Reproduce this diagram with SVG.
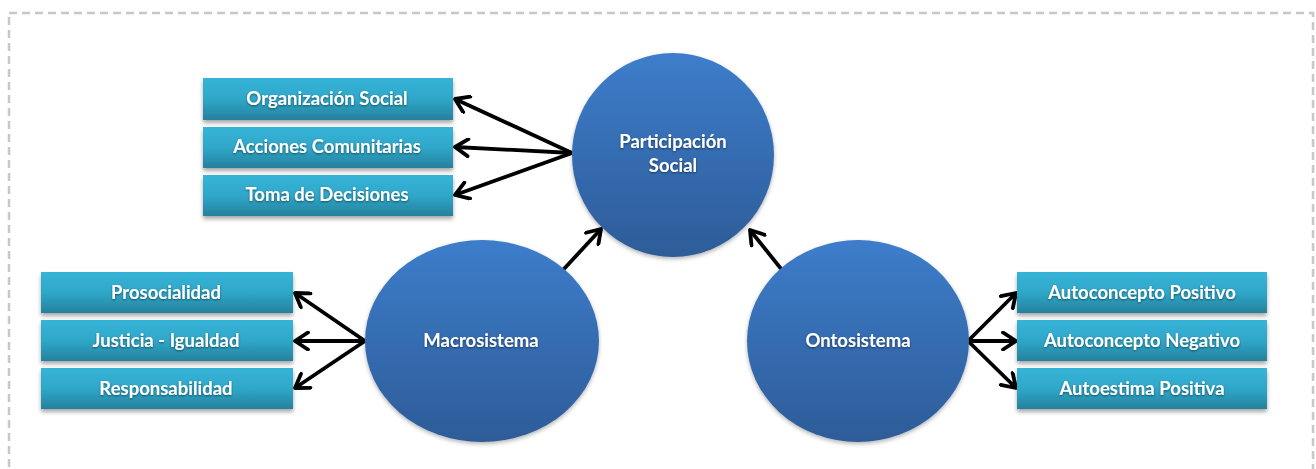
<svg xmlns="http://www.w3.org/2000/svg" width="1316" height="469" viewBox="0 0 1316 469">
<style>
.box{fill:url(#boxg);filter:url(#sh)}
.circ{fill:url(#circg);filter:url(#sh2)}
.lbl{font-family:"Lato","Liberation Sans",sans-serif;font-weight:bold;font-size:18.5px;fill:#ffffff;text-anchor:middle;filter:url(#tsh)}
.con{stroke:#000;stroke-width:3.8;fill:none;marker-end:url(#ah)}
</style>
<defs>
<linearGradient id="boxg" x1="0" y1="0" x2="0" y2="1">
<stop offset="0" stop-color="#36b4d8"/>
<stop offset="0.5" stop-color="#2fa7c9"/>
<stop offset="1" stop-color="#26819d"/>
</linearGradient>
<linearGradient id="circg" x1="0" y1="0" x2="0" y2="1">
<stop offset="0" stop-color="#3d7dcb"/>
<stop offset="1" stop-color="#2d5c98"/>
</linearGradient>
<filter id="sh" x="-10%" y="-20%" width="120%" height="160%">
<feGaussianBlur in="SourceAlpha" stdDeviation="2"/>
<feOffset dx="0" dy="3" result="b"/>
<feComponentTransfer><feFuncA type="linear" slope="0.35"/></feComponentTransfer>
<feMerge><feMergeNode/><feMergeNode in="SourceGraphic"/></feMerge>
</filter>
<filter id="sh2" x="-10%" y="-10%" width="120%" height="125%">
<feGaussianBlur in="SourceAlpha" stdDeviation="2"/>
<feOffset dx="0" dy="2" result="b"/>
<feComponentTransfer><feFuncA type="linear" slope="0.3"/></feComponentTransfer>
<feMerge><feMergeNode/><feMergeNode in="SourceGraphic"/></feMerge>
</filter>
<filter id="tsh" x="-10%" y="-30%" width="120%" height="160%">
<feGaussianBlur in="SourceAlpha" stdDeviation="0.8"/>
<feOffset dx="0" dy="1"/>
<feComponentTransfer><feFuncA type="linear" slope="0.5"/></feComponentTransfer>
<feMerge><feMergeNode/><feMergeNode in="SourceGraphic"/></feMerge>
</filter>
<marker id="ah" markerUnits="userSpaceOnUse" viewBox="0 0 20 20" refX="17" refY="10" markerWidth="20" markerHeight="20" orient="auto">
<path d="M4,1.5 L17,10 L4,18.5" stroke="#000" stroke-width="3.8" fill="none" stroke-linecap="round" stroke-linejoin="round"/>
</marker>
</defs>
<rect x="9" y="13" width="1304" height="470" fill="none" stroke="#c8c8c8" stroke-width="2.5" stroke-dasharray="8,5"/>

<g id="connectors">
<line class="con" x1="572" y1="153" x2="455" y2="99"/>
<line class="con" x1="572" y1="153" x2="455" y2="147"/>
<line class="con" x1="572" y1="153" x2="455" y2="195"/>
<line class="con" x1="365" y1="341" x2="295" y2="293"/>
<line class="con" x1="365" y1="341" x2="295" y2="341"/>
<line class="con" x1="365" y1="341" x2="295" y2="388"/>
<line class="con" x1="968" y1="341" x2="1016" y2="293"/>
<line class="con" x1="968" y1="341" x2="1016" y2="341"/>
<line class="con" x1="968" y1="341" x2="1016" y2="388"/>
<line class="con" x1="563" y1="270" x2="601" y2="229"/>
<line class="con" x1="782" y1="270" x2="750" y2="230"/>
</g>

<g id="participacion">
<ellipse class="circ" cx="673" cy="155" rx="101" ry="102"/>
<text class="lbl" x="673" y="148">Participación</text>
<text class="lbl" x="673" y="172">Social</text>
</g>
<g id="macrosistema">
<ellipse class="circ" cx="482" cy="341" rx="117" ry="101"/>
<text class="lbl" x="481" y="347">Macrosistema</text>
</g>
<g id="ontosistema">
<ellipse class="circ" cx="858" cy="341" rx="111" ry="101"/>
<text class="lbl" x="858" y="347">Ontosistema</text>
</g>

<g id="organizacion"><rect class="box" x="203" y="78" width="250" height="42"/><text class="lbl" x="327" y="105">Organización Social</text></g>
<g id="acciones"><rect class="box" x="203" y="127" width="250" height="41"/><text class="lbl" x="327" y="153">Acciones Comunitarias</text></g>
<g id="toma"><rect class="box" x="203" y="175" width="250" height="41"/><text class="lbl" x="327" y="201">Toma de Decisiones</text></g>

<g id="prosocialidad"><rect class="box" x="41" y="272" width="252" height="41"/><text class="lbl" x="166" y="299">Prosocialidad</text></g>
<g id="justicia"><rect class="box" x="41" y="320" width="252" height="41"/><text class="lbl" x="166" y="347">Justicia - Igualdad</text></g>
<g id="responsabilidad"><rect class="box" x="41" y="368" width="252" height="41"/><text class="lbl" x="166" y="395">Responsabilidad</text></g>

<g id="autoconcepto-pos"><rect class="box" x="1017" y="272" width="250" height="41"/><text class="lbl" x="1142" y="299">Autoconcepto Positivo</text></g>
<g id="autoconcepto-neg"><rect class="box" x="1017" y="320" width="250" height="41"/><text class="lbl" x="1142" y="347">Autoconcepto Negativo</text></g>
<g id="autoestima"><rect class="box" x="1017" y="368" width="250" height="41"/><text class="lbl" x="1142" y="395">Autoestima Positiva</text></g>
</svg>
